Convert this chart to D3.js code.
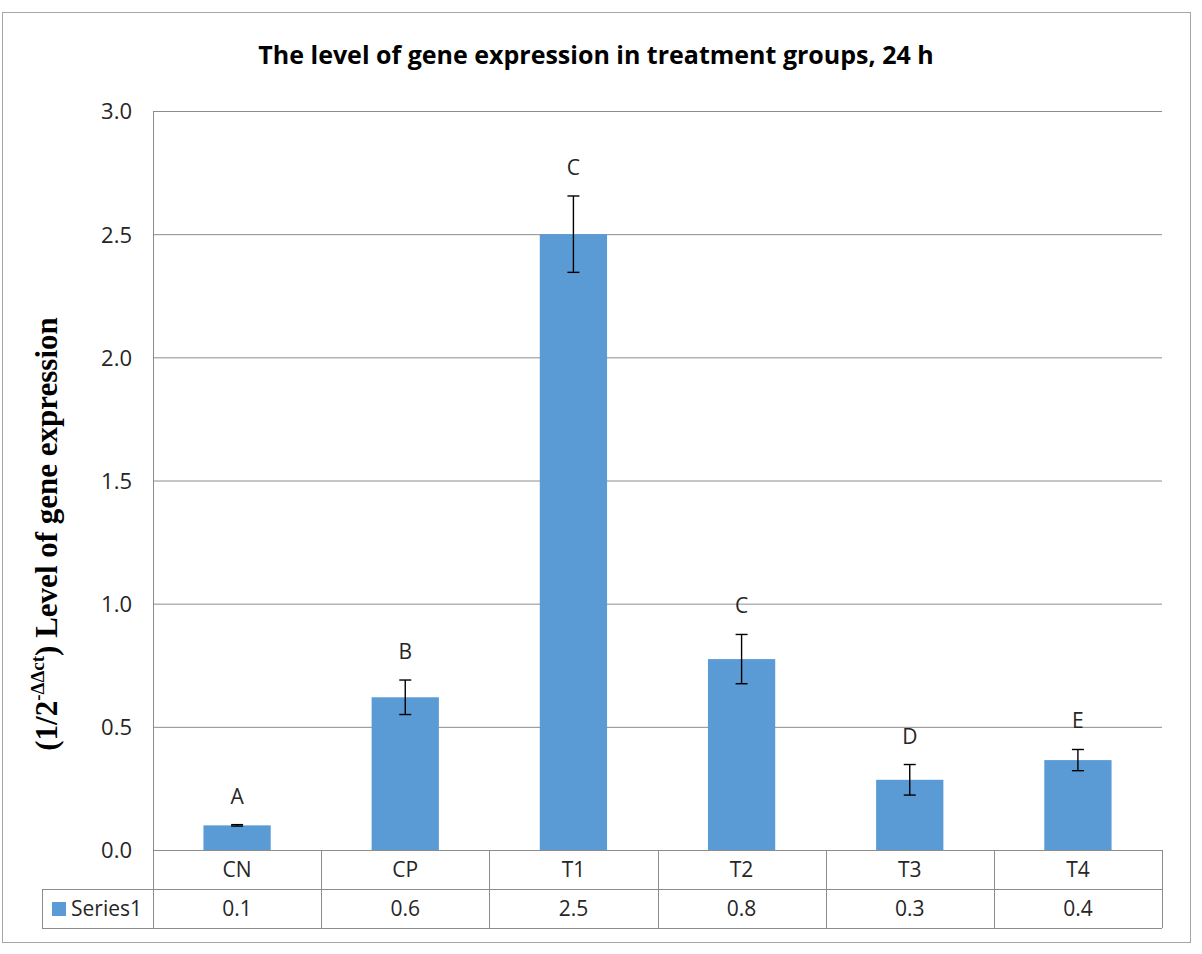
<!DOCTYPE html>
<html>
<head>
<meta charset="utf-8">
<script src="https://cdn.jsdelivr.net/npm/d3@7"></script>
<style>
  body { margin: 0; background: #fff; }
  svg { display: block; }
  .tick text { font-family: "Open Sans", sans-serif; }
</style>
</head>
<body>
<div id="chart"></div>
<script>
// data
var categories = ["CN", "CP", "T1", "T2", "T3", "T4"];
var values = [0.1, 0.62, 2.5, 0.775, 0.285, 0.365];
var errors = [0.003, 0.07, 0.155, 0.10, 0.062, 0.043];
var letters = ["A", "B", "C", "C", "D", "E"];
var yTicks = [0, 0.5, 1.0, 1.5, 2.0, 2.5, 3.0];
var seriesName = "Series1";

var width = 1202, height = 954;
var plot = { left: 153, right: 1162, top: 111, bottom: 850 };
var rowH = 39;
var blue = "#5b9bd5", gridCol = "#8c8c8c", textCol = "#262626";
var fs = 21;

var svg = d3.select("#chart").append("svg")
    .attr("width", width)
    .attr("height", height);

// outer chart border
svg.append("rect")
    .attr("x", 2.5).attr("y", 12.5)
    .attr("width", 1188).attr("height", 930)
    .attr("fill", "#fff")
    .attr("stroke", "#a6a6a6");

var x = d3.scaleBand()
    .domain(categories)
    .range([plot.left, plot.right])
    .paddingInner(0).paddingOuter(0);

var y = d3.scaleLinear()
    .domain([0, 3])
    .range([plot.bottom, plot.top]);

var fmt = d3.format(".1f");

// y axis with grid lines
var yAxis = svg.append("g")
    .attr("transform", "translate(" + plot.left + ",0)")
    .call(d3.axisLeft(y).tickValues(yTicks).tickFormat(fmt)
        .tickSizeInner(-(plot.right - plot.left)).tickSizeOuter(0).tickPadding(21));
yAxis.select(".domain").remove();
yAxis.selectAll(".tick line").attr("stroke", gridCol).attr("stroke-width", 1);
yAxis.selectAll(".tick text")
    .attr("fill", textCol)
    .attr("dy", "0.36em")
    .style("font-size", "22px");

// bars
var bw = x.bandwidth() * 0.4;
svg.selectAll(".bar")
    .data(values)
    .enter().append("rect")
    .attr("class", "bar")
    .attr("x", (d, i) => x(categories[i]) + (x.bandwidth() - bw) / 2)
    .attr("y", d => y(d))
    .attr("width", bw)
    .attr("height", d => y(0) - y(d))
    .attr("fill", blue);

// error bars
var eb = svg.selectAll(".err")
    .data(values)
    .enter().append("g")
    .attr("class", "err")
    .attr("stroke", "#000")
    .attr("stroke-width", 1.4);
var cx = i => x(categories[i]) + x.bandwidth() / 2;
eb.append("line")
    .attr("x1", (d, i) => cx(i)).attr("x2", (d, i) => cx(i))
    .attr("y1", (d, i) => y(d + errors[i])).attr("y2", (d, i) => y(d - errors[i]));
eb.append("line")
    .attr("x1", (d, i) => cx(i) - 6).attr("x2", (d, i) => cx(i) + 6)
    .attr("y1", (d, i) => y(d + errors[i])).attr("y2", (d, i) => y(d + errors[i]));
eb.append("line")
    .attr("x1", (d, i) => cx(i) - 6).attr("x2", (d, i) => cx(i) + 6)
    .attr("y1", (d, i) => y(d - errors[i])).attr("y2", (d, i) => y(d - errors[i]));

// significance letters
svg.selectAll(".letter")
    .data(values)
    .enter().append("text")
    .attr("class", "letter")
    .attr("x", (d, i) => cx(i))
    .attr("y", (d, i) => y(d + errors[i]) - 21)
    .attr("text-anchor", "middle")
    .attr("font-family", "Open Sans, sans-serif")
    .attr("font-size", fs)
    .attr("fill", textCol)
    .text((d, i) => letters[i]);

// data table under the plot
var tbl = svg.append("g").attr("stroke", gridCol).attr("fill", "none");
var legendLeft = 42;
// horizontal rules
tbl.append("line").attr("x1", plot.left).attr("x2", plot.right)
    .attr("y1", plot.bottom + 0.5).attr("y2", plot.bottom + 0.5);
tbl.append("line").attr("x1", legendLeft).attr("x2", plot.right)
    .attr("y1", plot.bottom + rowH + 0.5).attr("y2", plot.bottom + rowH + 0.5);
tbl.append("line").attr("x1", legendLeft).attr("x2", plot.right)
    .attr("y1", plot.bottom + 2 * rowH + 0.5).attr("y2", plot.bottom + 2 * rowH + 0.5);
// vertical rules
tbl.append("line").attr("x1", plot.left + 0.5).attr("x2", plot.left + 0.5)
    .attr("y1", plot.top).attr("y2", plot.bottom + 2 * rowH);
tbl.append("line").attr("x1", legendLeft + 0.5).attr("x2", legendLeft + 0.5)
    .attr("y1", plot.bottom + rowH).attr("y2", plot.bottom + 2 * rowH);
tbl.selectAll(".vcol")
    .data(categories)
    .enter().append("line")
    .attr("x1", d => Math.round(x(d) + x.bandwidth()) + 0.5)
    .attr("x2", d => Math.round(x(d) + x.bandwidth()) + 0.5)
    .attr("y1", plot.bottom)
    .attr("y2", plot.bottom + 2 * rowH);

svg.selectAll(".cat")
    .data(categories)
    .enter().append("text")
    .attr("x", d => x(d) + x.bandwidth() / 2)
    .attr("y", plot.bottom + 27)
    .attr("text-anchor", "middle")
    .attr("font-family", "Open Sans, sans-serif")
    .attr("font-size", fs)
    .attr("fill", textCol)
    .text(d => d);

svg.selectAll(".val")
    .data(values)
    .enter().append("text")
    .attr("x", (d, i) => cx(i))
    .attr("y", plot.bottom + rowH + 27)
    .attr("text-anchor", "middle")
    .attr("font-family", "Open Sans, sans-serif")
    .attr("font-size", fs)
    .attr("fill", textCol)
    .text(d => fmt(d));

// legend key in the table
svg.append("rect")
    .attr("x", 52).attr("y", plot.bottom + rowH + 13)
    .attr("width", 14).attr("height", 14)
    .attr("fill", blue);
svg.append("text")
    .attr("x", 71).attr("y", plot.bottom + rowH + 27)
    .attr("font-family", "Open Sans, sans-serif")
    .attr("font-size", fs)
    .attr("fill", textCol)
    .text(seriesName);

// title
svg.append("text")
    .attr("x", 596).attr("y", 64)
    .attr("text-anchor", "middle")
    .attr("font-family", "Open Sans, sans-serif")
    .attr("font-weight", "bold")
    .attr("font-size", 25)
    .attr("fill", "#000")
    .text("The level of gene expression in treatment groups, 24 h");

// y axis title, rotated
var yt = svg.append("text")
    .attr("transform", "translate(57,534) rotate(-90)")
    .attr("text-anchor", "middle")
    .attr("font-family", "Liberation Serif, serif")
    .attr("font-weight", "bold")
    .attr("font-size", 31)
    .attr("fill", "#000");
yt.append("tspan").text("(1/2");
yt.append("tspan").attr("font-size", 19).attr("dy", -13).text("-ΔΔct");
yt.append("tspan").attr("dy", 13).text(") Level of gene expression");
</script>
</body>
</html>
